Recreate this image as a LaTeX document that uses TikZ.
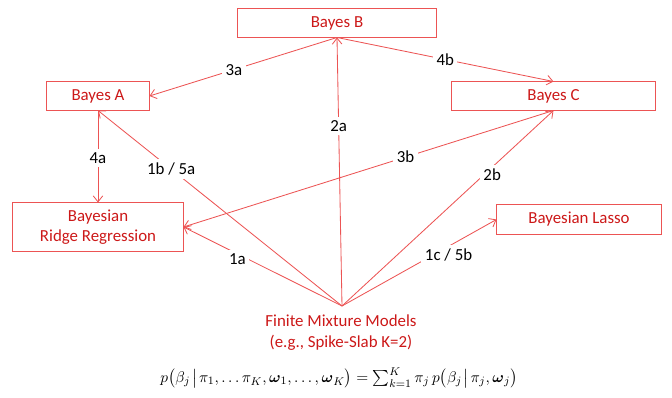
\documentclass[tikz,border=0pt]{standalone}
\usepackage{amsmath,amssymb}
\usepackage{fontspec}
\setmainfont{Carlito}
\usepackage{xcolor}
\usetikzlibrary{arrows.meta, positioning, calc}

\definecolor{boxred}{RGB}{236,84,84}
\definecolor{txtred}{RGB}{204,24,24}

\begin{document}
\begin{tikzpicture}[
    x=0.025cm, y=-0.025cm,
    >={Straight Barb[length=1.5mm,width=2.4mm]},
    arrow/.style={->,draw=boxred,line width=0.6pt},
    model/.style={rectangle,draw=boxred,line width=0.7pt,text=txtred,font=\fontsize{12}{14}\selectfont,minimum height=7mm,inner sep=1pt},
    tag/.style={fill=white,inner sep=2.5pt,font=\fontsize{12}{14}\selectfont,text=black}
]
\useasboundingbox (0,0) rectangle (672,398);

%--------------------------------------------------------------------
% Models
%--------------------------------------------------------------------
\node[model,minimum width=49.5mm] (bayesB) at (337,23)  {Bayes B};
\node[model,minimum width=25.5mm] (bayesA) at (98,96)   {Bayes A};
\node[model,minimum width=50.8mm] (bayesC) at (553.5,96) {Bayes C};
\node[model,minimum width=42.5mm,minimum height=12mm,align=center] (ridge) at (98,227)
      {Bayesian\\Ridge Regression};
\node[model,minimum width=41mm,minimum height=7.3mm] (lasso) at (579,219.5) {Bayesian Lasso};

% mixture model (hub)
\coordinate (hub) at (342,306);
\node[text=txtred,font=\fontsize{12}{15}\selectfont,align=center] (fmm) at (341,333)
      {Finite Mixture Models\\(e.g., Spike-Slab K=2)};

%--------------------------------------------------------------------
% Connections
%--------------------------------------------------------------------
\draw[arrow] (bayesB.south) -- node[tag,pos=0.55] {3a} (bayesA.east);
\draw[arrow] (bayesB.south) -- node[tag,pos=0.5]  {4b} (bayesC.north);
\draw[arrow] (bayesA.south) -- node[tag,pos=0.52] {4a} (ridge.north);
\draw[arrow] (bayesC.south) -- node[tag,pos=0.4]  {3b} (ridge.east);

\draw[arrow] (hub) -- node[tag,pos=0.67] {2a}      (bayesB.south);
\draw[arrow] (hub) -- node[tag,pos=0.7]  {1b / 5a} (bayesA.south);
\draw[arrow] (hub) -- node[tag,pos=0.71,yshift=-1.8mm] {2b} (bayesC.south);
\draw[arrow] (hub) -- node[tag,pos=0.66,yshift=-1.4mm] {1a} (ridge.east);
\draw[arrow] (hub) -- node[tag,pos=0.69,yshift=-2.2mm] {1c / 5b} (lasso.west);

%--------------------------------------------------------------------
% Mixture density
%--------------------------------------------------------------------
\node[font=\fontsize{11.3}{13}\selectfont] (dens) at (339,378)
  {$p\bigl(\beta_j\mkern2mu\big|\mkern2mu\pi_1,\ldots\pi_K,\boldsymbol{\omega}_1,\ldots,\boldsymbol{\omega}_K\bigr)
    = \sum\nolimits_{k=1}^{K}\pi_j\,p\bigl(\beta_j\mkern2mu\big|\mkern2mu\pi_j,\boldsymbol{\omega}_j\bigr)$};

\end{tikzpicture}
\end{document}
